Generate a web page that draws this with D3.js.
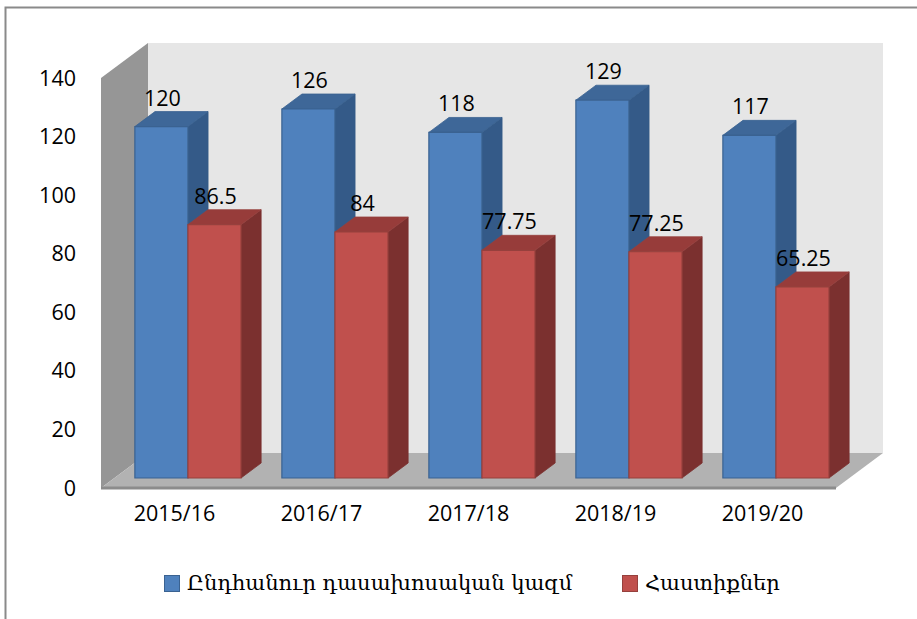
<!DOCTYPE html>
<html>
<head>
<meta charset="utf-8">
<script src="https://cdn.jsdelivr.net/npm/d3@7"></script>
<style>
  body { margin: 0; background: #fff; }
  svg { display: block; }
</style>
</head>
<body>
<svg width="917" height="619"></svg>
<script>
// data
const categories = ["2015/16", "2016/17", "2017/18", "2018/19", "2019/20"];
const seriesNames = ["Ընդհանուր դասախոսական կազմ", "Հաստիքներ"];
const staff = [120, 126, 118, 129, 117];
const positions = [86.5, 84, 77.75, 77.25, 65.25];
const yTicks = [0, 20, 40, 60, 80, 100, 120, 140];

const series = [staff, positions];
const colors = [
  { front: "#4f81bd", top: "#3e6798", side: "#345a88", edge: "#3a6291" },
  { front: "#c0504d", top: "#973c3a", side: "#7b302f", edge: "#96403d" }
];

const svg = d3.select("svg");

// oblique 3d projection: depth goes up and to the right
const depthX = 47, depthY = -35;
const x = d3.scaleBand().domain(categories).range([101, 836]);
const y = d3.scaleLinear().domain([0, 140]).range([488, 78]);
const inner = d3.scaleBand().domain([0, 1]).range([0, x.bandwidth()]).paddingOuter(0.385);
const z0 = 0.286, z1 = 0.714;

const px = (sx, z) => sx + z * depthX;
const py = (sy, z) => sy + z * depthY;
const pt = (sx, sy, z) => [px(sx, z), py(sy, z)];
const poly = (pts) => pts.map((p) => p.join(",")).join(" ");

// frame
svg.append("path")
  .attr("d", "M5.5,619 L5.5,7.5 L917,7.5")
  .attr("fill", "none")
  .attr("stroke", "#8a8a8a")
  .attr("stroke-width", 2);

const x0 = x.range()[0], x1 = x.range()[1];
const yTop = y(140), yBase = y(0);

// back wall
svg.append("polygon")
  .attr("points", poly([pt(x0, yTop, 1), pt(x1, yTop, 1), pt(x1, yBase, 1), pt(x0, yBase, 1)]))
  .attr("fill", "#e6e6e6");

// side wall
svg.append("polygon")
  .attr("points", poly([pt(x0, yTop, 0), pt(x0, yTop, 1), pt(x0, yBase, 1), pt(x0, yBase, 0)]))
  .attr("fill", "#969696");

// floor
svg.append("polygon")
  .attr("points", poly([pt(x0, yBase, 0), pt(x0, yBase, 1), pt(x1, yBase, 1), pt(x1, yBase, 0)]))
  .attr("fill", "#b2b2b2");
svg.append("line")
  .attr("x1", x0).attr("x2", x1)
  .attr("y1", yBase).attr("y2", yBase)
  .attr("stroke", "#8c8c8c")
  .attr("stroke-width", 3);

// bars, drawn left to right so later fronts cover earlier sides
const bars = [];
categories.forEach((c, i) => {
  series.forEach((s, k) => bars.push({ cat: c, k: k, v: s[i] }));
});

const bar = svg.selectAll(".bar")
  .data(bars)
  .join("g")
  .attr("class", "bar");

bar.each(function (d) {
  const g = d3.select(this);
  const c = colors[d.k];
  const l = x(d.cat) + inner(d.k);
  const r = l + inner.bandwidth();
  const t = y(d.v), b = y(0);

  // side face
  g.append("polygon")
    .attr("points", poly([pt(r, t, z0), pt(r, t, z1), pt(r, b, z1), pt(r, b, z0)]))
    .attr("fill", c.side)
    .attr("stroke", c.side)
    .attr("stroke-width", 0.8);
  // top face
  g.append("polygon")
    .attr("points", poly([pt(l, t, z0), pt(l, t, z1), pt(r, t, z1), pt(r, t, z0)]))
    .attr("fill", c.top)
    .attr("stroke", c.edge)
    .attr("stroke-width", 0.8);
  // front face
  g.append("polygon")
    .attr("points", poly([pt(l, t, z0), pt(r, t, z0), pt(r, b, z0), pt(l, b, z0)]))
    .attr("fill", c.front)
    .attr("stroke", c.edge)
    .attr("stroke-width", 1.2);
});

// value labels
svg.selectAll(".value")
  .data(bars)
  .join("text")
  .attr("class", "value")
  .attr("x", (d) => px(x(d.cat) + inner(d.k) + inner.bandwidth() / 2, z0) + 1)
  .attr("y", (d) => py(y(d.v), z1) - 6)
  .attr("text-anchor", "middle")
  .attr("font-family", "Open Sans, sans-serif")
  .attr("font-size", 21.5)
  .attr("fill", "#000")
  .text((d) => d.v);

// y axis labels
svg.selectAll(".ytick")
  .data(yTicks)
  .join("text")
  .attr("class", "ytick")
  .attr("x", 76)
  .attr("y", (d) => y(d))
  .attr("dy", "0.35em")
  .attr("text-anchor", "end")
  .attr("font-family", "Open Sans, sans-serif")
  .attr("font-size", 21.5)
  .text((d) => d);

// category labels
svg.selectAll(".xtick")
  .data(categories)
  .join("text")
  .attr("class", "xtick")
  .attr("x", (d) => x(d) + x.bandwidth() / 2)
  .attr("y", 521)
  .attr("text-anchor", "middle")
  .attr("font-family", "Open Sans, sans-serif")
  .attr("font-size", 21.5)
  .text((d) => d);

// legend
const legendX = [164, 622];
const legend = svg.selectAll(".legend")
  .data(seriesNames)
  .join("g")
  .attr("class", "legend")
  .attr("transform", (d, i) => "translate(" + legendX[i] + ",575)");

legend.append("rect")
  .attr("x", 0.5)
  .attr("y", 0.5)
  .attr("width", 15)
  .attr("height", 16)
  .attr("fill", (d, i) => colors[i].front)
  .attr("stroke", (d, i) => colors[i].edge);

legend.append("text")
  .attr("x", 23)
  .attr("y", 15)
  .attr("font-family", "DejaVu Serif, serif")
  .attr("font-size", 21)
  .text((d) => d);
</script>
</body>
</html>
